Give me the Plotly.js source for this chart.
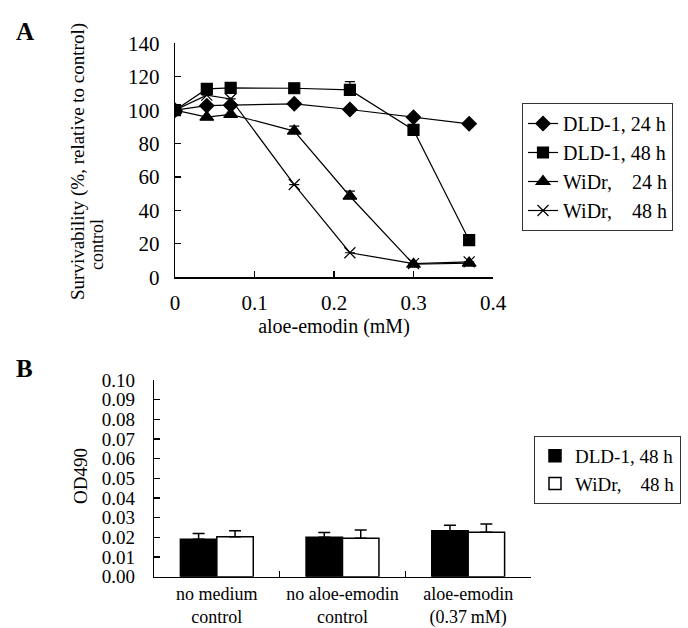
<!DOCTYPE html>
<html>
<head>
<meta charset="utf-8">
<script src="https://cdn.plot.ly/plotly-3.0.1.min.js"></script>
<style>html,body{margin:0;padding:0;background:#fff;}</style>
</head>
<body>
<div id="chart" style="width:688px;height:628px;"></div>
<script>
// Panel A data
const doseMM = [0, 0.04, 0.07, 0.15, 0.22, 0.30, 0.37];
const dld24 = [100, 102.7, 103, 103.8, 100.4, 95.8, 91.8];
const dld24Err = [0, 0, 0, 0, 0, 0, 0];
const dld48 = [100, 112.7, 113.3, 113.1, 112.1, 88.2, 22.2];
const dld48Err = [0, 1, 1.5, 0, 5, 3, 0];
const widr24 = [100, 95.8, 97.5, 87.5, 48.5, 7.8, 8.5];
const widr24Err = [0, 0, 0, 3, 3, 0, 0];
const widr48 = [100, 109, 106.7, 55.5, 14.7, 8.2, 9.2];
const widr48Err = [0, 0, 0, 0, 0, 0, 0];
const seriesNamesA = ["DLD-1, 24 h", "DLD-1, 48 h", "WiDr,\u00A0\u00A0\u00A0 24 h", "WiDr,\u00A0\u00A0\u00A0 48 h"];
const xTicksA = [0, 0.1, 0.2, 0.3, 0.4];
const xTickTextA = ["0", "0.1", "0.2", "0.3", "0.4"];
const yTicksA = [0, 20, 40, 60, 80, 100, 120, 140];

// Panel B data
const groupsB = ["no medium<br>control", "no aloe-emodin<br>control", "aloe-emodin<br>(0.37\u2009mM)"];
const odDld48 = [0.019, 0.020, 0.0234];
const odDld48Err = [0.003, 0.0025, 0.0027];
const odWidr48 = [0.0203, 0.0195, 0.0226];
const odWidr48Err = [0.003, 0.0042, 0.0042];
const seriesNamesB = ["DLD-1, 48 h", "WiDr,\u00A0\u00A0\u00A0 48 h"];
const yTicksB = [0, 0.01, 0.02, 0.03, 0.04, 0.05, 0.06, 0.07, 0.08, 0.09, 0.10];

const FONT = "Liberation Serif, Times New Roman, serif";
const zeros = n => new Array(n).fill(0);

function lineTrace(y, err, name, symbol, size) {
  return {
    type: "scatter", mode: "lines+markers", x: doseMM, y: y, name: name,
    xaxis: "x", yaxis: "y", legend: "legend",
    line: {color: "#000", width: 1.2},
    marker: {symbol: symbol, size: size, color: "#000", line: {color: "#000", width: 1.2}},
    error_y: {type: "data", symmetric: false, array: err, arrayminus: zeros(err.length),
              color: "#000", thickness: 1.2, width: 5}
  };
}

const traces = [
  lineTrace(dld24, dld24Err, seriesNamesA[0], "diamond", 11),
  lineTrace(dld48, dld48Err, seriesNamesA[1], "square", 11),
  lineTrace(widr24, widr24Err, seriesNamesA[2], "triangle-up", 12),
  lineTrace(widr48, widr48Err, seriesNamesA[3], "x-thin", 11),
  {
    type: "bar", x: groupsB, y: odDld48, name: seriesNamesB[0],
    xaxis: "x2", yaxis: "y2", legend: "legend2",
    marker: {color: "#000", line: {color: "#000", width: 1.5}},
    error_y: {type: "data", symmetric: false, array: odDld48Err, arrayminus: [0,0,0],
              color: "#000", thickness: 1.5, width: 6}
  },
  {
    type: "bar", x: groupsB, y: odWidr48, name: seriesNamesB[1],
    xaxis: "x2", yaxis: "y2", legend: "legend2",
    marker: {color: "#fff", line: {color: "#000", width: 1.5}},
    error_y: {type: "data", symmetric: false, array: odWidr48Err, arrayminus: [0,0,0],
              color: "#000", thickness: 1.5, width: 6}
  }
];

const axBase = {
  showgrid: false, zeroline: false, showline: true, linecolor: "#000", linewidth: 1.2,
  ticks: "inside", ticklen: 6, tickwidth: 1.2, tickcolor: "#000", mirror: false
};

const layout = {
  width: 688, height: 628,
  margin: {l: 0, r: 0, t: 0, b: 0},
  paper_bgcolor: "#fff", plot_bgcolor: "#fff",
  font: {family: FONT, color: "#000", size: 20},
  barmode: "group", bargap: 0.42, bargroupgap: 0,
  xaxis: Object.assign({}, axBase, {
    domain: [175/688, 493/688], anchor: "y", range: [0, 0.4],
    tickvals: xTicksA, ticktext: xTickTextA, ticklabelstandoff: 6,
    tickfont: {family: FONT, size: 21},
    title: {text: "aloe-emodin (mM)", font: {family: FONT, size: 20}, standoff: 4}
  }),
  yaxis: Object.assign({}, axBase, {
    domain: [1 - 277.3/628, 1 - 43.3/628], anchor: "x", range: [0, 140],
    tickvals: yTicksA, ticklabelstandoff: 10,
    tickfont: {family: FONT, size: 21}
  }),
  xaxis2: Object.assign({}, axBase, {
    domain: [154/688, 531/688], anchor: "y2", type: "category", range: [-0.5, 2.5],
    tickson: "boundaries", tickfont: {family: FONT, size: 18}
  }),
  yaxis2: Object.assign({}, axBase, {
    domain: [1 - 576.7/628, 1 - 380/628], anchor: "x2", range: [0, 0.1],
    tickvals: yTicksB, tickformat: ".2f", ticklabelstandoff: 14,
    tickfont: {family: FONT, size: 19}
  }),
  legend: {
    x: 522/688, y: 1 - 103/628, xanchor: "left", yanchor: "top",
    bordercolor: "#333", borderwidth: 1, bgcolor: "#fff",
    font: {family: FONT, size: 20}, itemwidth: 30, tracegroupgap: 0
  },
  legend2: {
    x: 534/688, y: 1 - 436/628, xanchor: "left", yanchor: "top",
    bordercolor: "#333", borderwidth: 1, bgcolor: "#fff",
    font: {family: FONT, size: 19}, itemwidth: 30, tracegroupgap: 0
  },
  annotations: [
    {text: "<b>A</b>", x: 14/688, y: 1 - 31/628, xref: "paper", yref: "paper",
     xanchor: "left", yanchor: "middle", showarrow: false, font: {family: FONT, size: 25}},
    {text: "<b>B</b>", x: 14/688, y: 1 - 368/628, xref: "paper", yref: "paper",
     xanchor: "left", yanchor: "middle", showarrow: false, font: {family: FONT, size: 25}},
    {text: "Survivability (%, relative to control)", x: 78/688, y: 1 - 162/628,
     xref: "paper", yref: "paper", xanchor: "center", yanchor: "middle", textangle: -90,
     showarrow: false, font: {family: FONT, size: 19}},
    {text: "control", x: 97/688, y: 1 - 245/628,
     xref: "paper", yref: "paper", xanchor: "center", yanchor: "middle", textangle: -90,
     showarrow: false, font: {family: FONT, size: 18}},
    {text: "OD490", x: 80/688, y: 1 - 476/628,
     xref: "paper", yref: "paper", xanchor: "center", yanchor: "middle", textangle: -90,
     showarrow: false, font: {family: FONT, size: 19}}
  ]
};

Plotly.newPlot("chart", traces, layout, {displayModeBar: false, staticPlot: true});
</script>
</body>
</html>
